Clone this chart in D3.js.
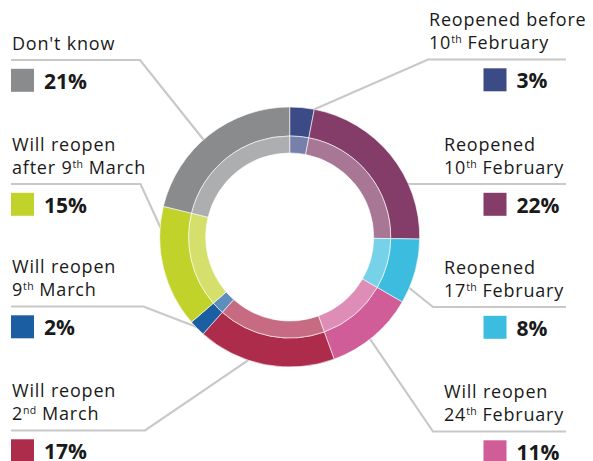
<!DOCTYPE html>
<html><head><meta charset="utf-8">
<script src="https://cdn.jsdelivr.net/npm/d3@7"></script>
<style>
html,body{margin:0;padding:0;background:#fff;}
svg{display:block;}
text{font-family:"Open Sans","Noto Sans",sans-serif;fill:#1a1a1a;}
</style></head>
<body>
<svg id="chart" width="593" height="461"></svg>
<script>
// ---- data ----
const categories = [
  "Reopened before 10th February",
  "Reopened 10th February",
  "Reopened 17th February",
  "Will reopen 24th February",
  "Will reopen 2nd March",
  "Will reopen 9th March",
  "Will reopen after 9th March",
  "Don't know"
];
// label lines; ^...^ marks superscript
const labelLines = [
  ["Reopened before", "10^th^ February"],
  ["Reopened", "10^th^ February"],
  ["Reopened", "17^th^ February"],
  ["Will reopen", "24^th^ February"],
  ["Will reopen", "2^nd^ March"],
  ["Will reopen", "9^th^ March"],
  ["Will reopen", "after 9^th^ March"],
  ["Don't know"]
];
const values = [3, 22, 8, 11, 17, 2, 15, 21];
const valueLabels = ["3%", "22%", "8%", "11%", "17%", "2%", "15%", "21%"];
const colors = ["#3c4a85", "#843c69", "#3cbde0", "#d05c98", "#ad2c4b", "#1b5ea1", "#c1d22b", "#8a8b8d"];

// ---- layout (positions only) ----
const W = 593, H = 461;
const cx = 289.7, cy = 237;
const R = 130, Rmid = 101, Rin = 84;
const side    = ["right","right","right","right","left","left","left","left"];
const lineY   = [59.5, 184, 307, 431.5, 430.5, 306.5, 184, 60];
const elbowX  = [428, null, 433, 433, 145, 143.5, 140.5, 140];
const anchorDeg = [8.9, null, 112.7, 141.7, 197.6, 223.4, 272, 318.4];
const textX   = [429, 444, 444, 444, 12, 12, 12, 12];

const svg = d3.select("#chart");
const pie = d3.pie().sort(null).value(d => d).startAngle(0).endAngle(2*Math.PI);
const arcs = pie(values);
const outerArc = d3.arc().innerRadius(Rmid).outerRadius(R);
const innerArc = d3.arc().innerRadius(Rin).outerRadius(Rmid);
const light = c => d3.interpolateRgb(c, "#ffffff")(0.3);
const pt = (deg, r) => { const a = deg*Math.PI/180; return [cx + r*Math.sin(a), cy - r*Math.cos(a)]; };

// leader lines
const leaders = svg.append("g");
values.forEach((v, i) => {
  const y = lineY[i];
  let pts;
  if (side[i] === "right") {
    if (elbowX[i] === null) {
      const xr = cx + Math.sqrt(R*R - (y-cy)*(y-cy));
      pts = [[xr-3, y], [566, y]];
    } else {
      pts = [pt(anchorDeg[i], R-3), [elbowX[i], y], [566, y]];
    }
  } else {
    pts = [pt(anchorDeg[i], R-3), [elbowX[i], y], [11, y]];
  }
  leaders.append("path")
    .attr("d", d3.line()(pts))
    .attr("fill", "none")
    .attr("stroke", "#c8c8c8")
    .attr("stroke-width", 2.2);
});

// donut
const g = svg.append("g").attr("transform", `translate(${cx},${cy})`);
g.selectAll("path.o").data(arcs).join("path").attr("class","o")
  .attr("d", outerArc).attr("fill", (d,i) => colors[i])
  .attr("stroke", "#fff").attr("stroke-width", 0.6);
g.selectAll("path.i").data(arcs).join("path").attr("class","i")
  .attr("d", innerArc).attr("fill", (d,i) => light(colors[i]))
  .attr("stroke", "#fff").attr("stroke-width", 0.6);

// labels
function addRich(textSel, str) {
  const parts = str.split("^");
  parts.forEach((p, k) => {
    if (!p) return;
    if (k % 2 === 1) {
      textSel.append("tspan").attr("font-size", 10.5).attr("letter-spacing", 0.3)
        .attr("baseline-shift", "6.5px").text(p);
    } else {
      textSel.append("tspan").text(p);
    }
  });
}
const lab = svg.append("g");
values.forEach((v, i) => {
  const y = lineY[i];
  const lines = labelLines[i];
  const n = lines.length;
  lines.forEach((ln, k) => {
    const t = lab.append("text")
      .attr("x", textX[i])
      .attr("y", y - 10.5 - (n-1-k)*22.8)
      .attr("font-size", 18)
      .attr("letter-spacing", 0.8);
    addRich(t, ln);
  });
  const sx = side[i] === "right" ? 483.5 : 11;
  lab.append("rect").attr("x", sx).attr("y", y + 8.8).attr("width", 23).attr("height", 23)
    .attr("fill", colors[i]);
  lab.append("text").attr("x", sx + 33).attr("y", y + 28.5)
    .attr("font-size", 21).attr("font-weight", "bold").attr("fill", "#111")
    .text(valueLabels[i]);
});
</script>
</body></html>
